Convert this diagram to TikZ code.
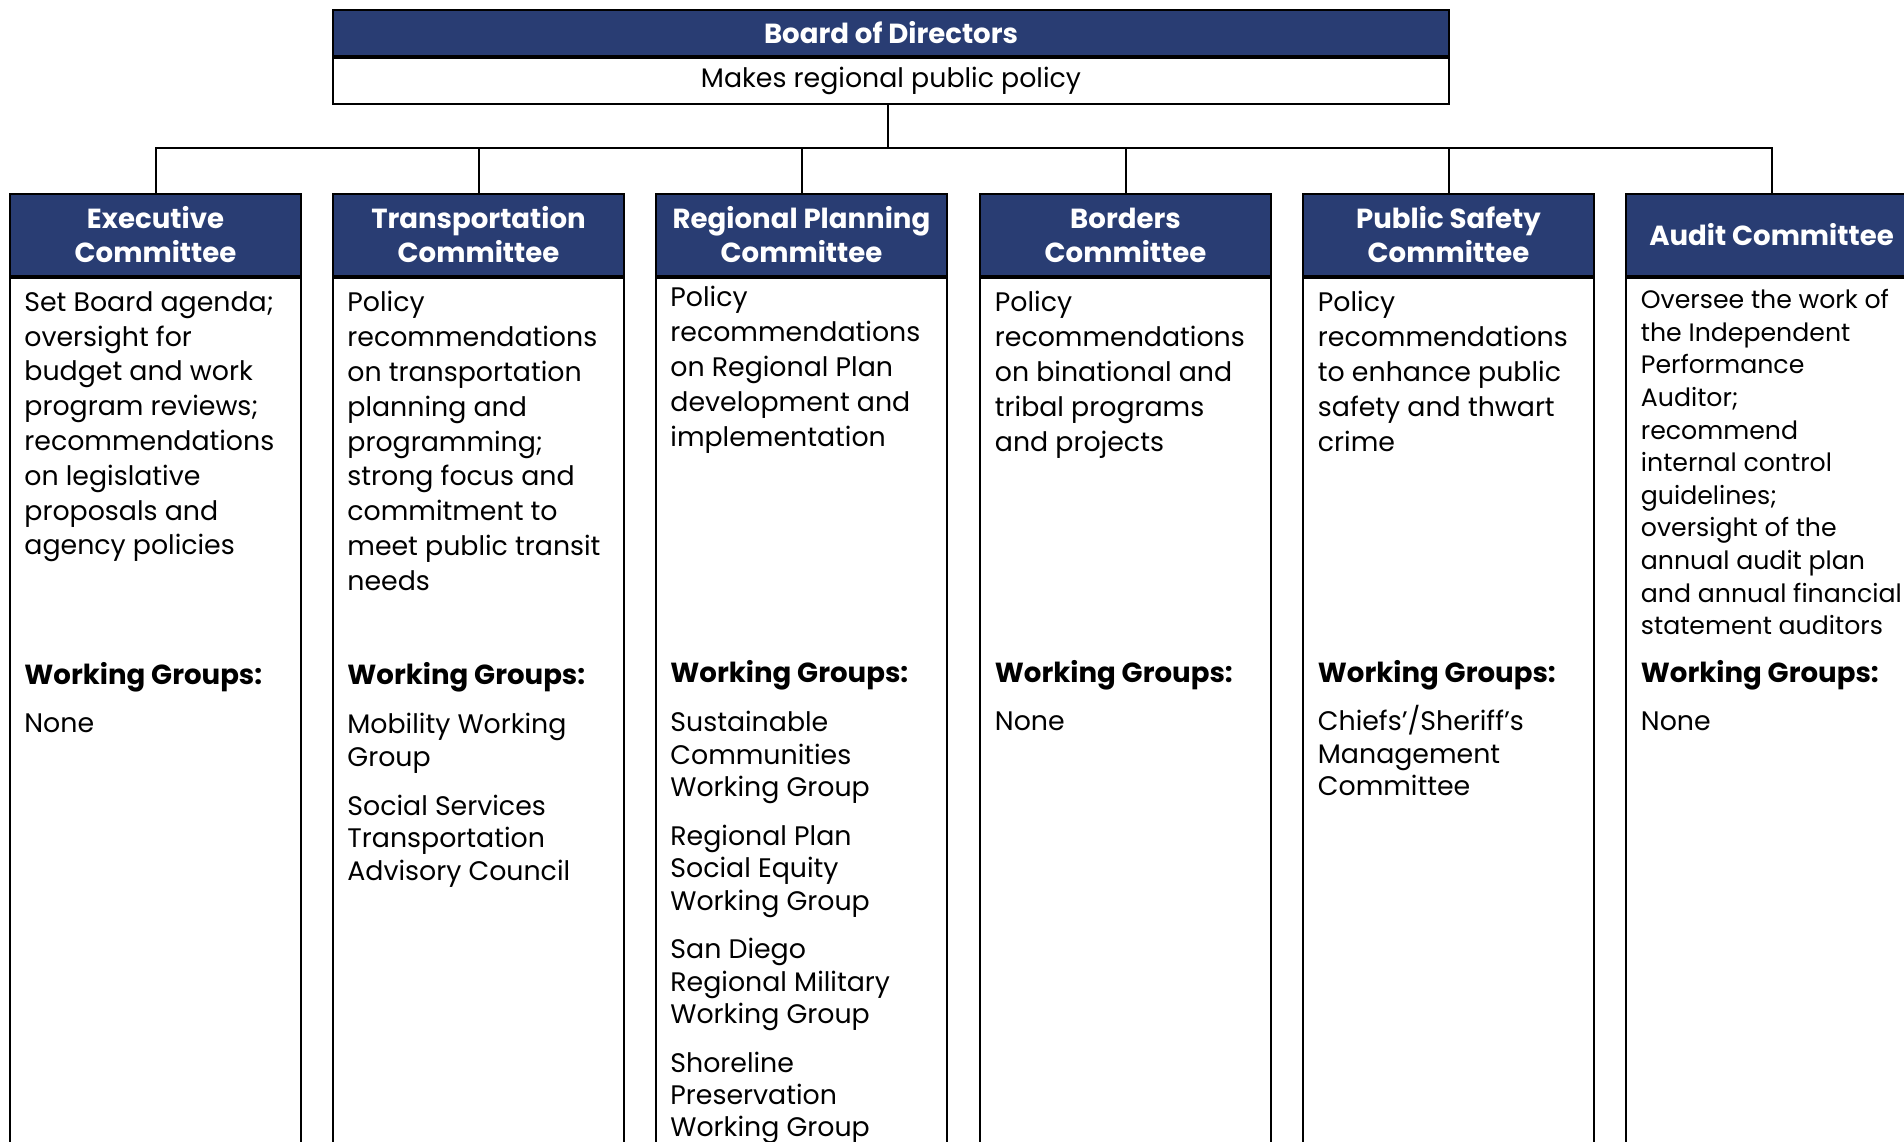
\documentclass[tikz,border=0pt]{standalone}
\usepackage{fontspec}
\setmainfont{Poppins}
\usepackage{tikz}
\usetikzlibrary{positioning}
\definecolor{boardblue}{RGB}{41,61,115}
\tikzstyle{boardhead} = [rectangle, draw, line width=1pt, fill=boardblue, text=white,
    font=\bfseries\fontsize{13.8}{15}\selectfont, minimum width=558pt, minimum height=23pt, inner sep=0pt]
\tikzstyle{boardbody} = [rectangle, draw, line width=1pt,
    font=\fontsize{13.4}{15}\selectfont, minimum width=558pt, minimum height=23pt, inner sep=0pt]
\tikzstyle{cmthead} = [rectangle, draw, line width=1pt, fill=boardblue, text=white, align=center,
    font=\bfseries\fontsize{13.8}{17}\selectfont, minimum width=145.5pt, minimum height=41pt, inner sep=0pt]
\tikzstyle{cmtbody} = [rectangle, draw, line width=1pt, minimum width=145.5pt, minimum height=460pt]
\tikzstyle{desc} = [anchor=north west, align=left, inner sep=0pt, font=\fontsize{13.4}{17.4}\selectfont]
\tikzstyle{wghead} = [anchor=base west, inner sep=0pt, font=\bfseries\fontsize{13.8}{16}\selectfont]
\tikzstyle{wglist} = [anchor=north west, align=left, inner sep=0pt, font=\fontsize{13.4}{16.2}\selectfont]
\tikzstyle{edge} = [draw, line width=1pt]

\begin{document}
\begin{tikzpicture}[x=0.5pt, y=-0.5pt]
  \useasboundingbox (0,0) rectangle (1904,1141);
  \clip (0,0) rectangle (1904,1141);
  % Place nodes
  \node [boardhead] (board) at (891,33) {Board of Directors};
  \node [boardbody, below=0pt of board] (boardtxt) {Makes regional public policy};
  \node [cmthead] (exec) at (155.5,235) {Executive\\Committee};
  \node [cmthead] (trans) at (478.5,235) {Transportation\\Committee};
  \node [cmthead] (rpc) at (801.5,235) {Regional Planning\\Committee};
  \node [cmthead] (bord) at (1125.5,235) {Borders\\Committee};
  \node [cmthead] (psc) at (1448.5,235) {Public Safety\\Committee};
  \node [cmthead] (audit) at (1771.5,235) {Audit Committee};
  \foreach \c in {exec,trans,rpc,bord,psc,audit}
    \node [cmtbody, below=0pt of \c] (\c-box) {};
  % Committee texts
  \node [desc] (exec-desc) at (24,291) {Set Board agenda;\\oversight for\\budget and work\\program reviews;\\recommendations\\on legislative\\proposals and\\agency policies};
  \node [desc] (trans-desc) at (347,291) {Policy\\recommendations\\on transportation\\planning and\\programming;\\strong focus and\\commitment to\\meet public transit\\needs};
  \node [desc] (rpc-desc) at (670,286) {Policy\\recommendations\\on Regional Plan\\development and\\implementation};
  \node [desc] (bord-desc) at (994.5,291) {Policy\\recommendations\\on binational and\\tribal programs\\and projects};
  \node [desc] (psc-desc) at (1317.5,291) {Policy\\recommendations\\to enhance public\\safety and thwart\\crime};
  \node [desc, font=\fontsize{12.6}{16.3}\selectfont] (audit-desc) at (1640.5,289) {Oversee the work of\\the Independent\\Performance\\Auditor;\\recommend\\internal control\\guidelines;\\oversight of the\\annual audit plan\\and annual financial\\statement auditors};
  % Working groups
  \node [wghead] (exec-wg) at (24,684) {Working Groups:};
  \node [wghead] (trans-wg) at (347,684) {Working Groups:};
  \node [wghead] (rpc-wg) at (670,682) {Working Groups:};
  \node [wghead] (bord-wg) at (994.5,682) {Working Groups:};
  \node [wghead] (psc-wg) at (1317.5,682) {Working Groups:};
  \node [wghead] (audit-wg) at (1640.5,682) {Working Groups:};
  \node [wglist] (exec-list) at (24,713) {None};
  \node [wglist] (trans-list) at (347,713) {Mobility Working\\Group\\[8.4pt]Social Services\\Transportation\\Advisory Council};
  \node [wglist] (rpc-list) at (670,711) {Sustainable\\Communities\\Working Group\\[8.1pt]Regional Plan\\Social Equity\\Working Group\\[8.1pt]San Diego\\Regional Military\\Working Group\\[8.1pt]Shoreline\\Preservation\\Working Group};
  \node [wglist] (bord-list) at (994.5,711) {None};
  \node [wglist] (psc-list) at (1317.5,705) {Chiefs’/Sheriff’s\\Management\\Committee};
  \node [wglist] (audit-list) at (1640.5,711) {None};
  % Draw edges
  \coordinate (bar) at (888,148);
  \foreach \c in {exec,trans,rpc,bord,psc,audit}
    \path[edge] ([xshift=-1.5pt]boardtxt.south) -- ([xshift=-1.5pt]boardtxt.south |- bar) -| (\c.north);
\end{tikzpicture}
\end{document}
